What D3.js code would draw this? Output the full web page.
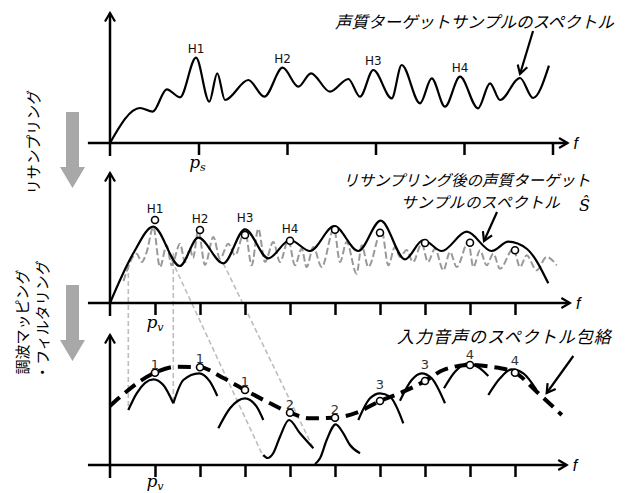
<!DOCTYPE html>
<html>
<head>
<meta charset="utf-8">
<script src="https://cdn.jsdelivr.net/npm/d3@7"></script>
<style>
  body { margin: 0; background: #fff; }
  svg { display: block; }
</style>
</head>
<body>
<svg id="chart" width="640" height="493"></svg>
<script>
// =========================
// DATA
// =========================

// panel 1: target sample spectrum  [frequency in p_s units, level]
const targetSpec = [
  [0, 0], [0.339, 35], [0.482, 31.3], [0.641, 53.7], [0.791, 45.7], [0.972, 85.3],
  [1.122, 41.3], [1.212, 69.7], [1.299, 43], [1.563, 63], [1.744, 46.3], [1.951, 75.3],
  [2.128, 56.3], [2.271, 69.7], [2.486, 51.3], [2.693, 64], [2.825, 46.3], [2.975, 73],
  [3.183, 44.7], [3.296, 78], [3.503, 39.7], [3.635, 64.7], [3.785, 36.3], [3.955, 66.3],
  [4.158, 34.7], [4.294, 59.7], [4.407, 43], [4.633, 65], [4.78, 45], [4.96, 77.3]
];
const targetTicks = [1, 2, 3, 4, 5];
const targetHarmNames = ["H1", "H2", "H3", "H4"];
const targetHarmIndex = [5, 11, 17, 23];   // points of targetSpec that carry H1..H4

// panel 2: resampled spectrum (solid) and resampled target (grey dashed) [frequency in p_v units, level]
const resampledSpec = [
  [0, 0], [0.518, 49.7], [0.962, 76.3], [1.55, 37], [1.962, 65.3], [2.518, 39.7],
  [3.0, 73.7], [3.518, 44.7], [4.0, 63], [4.444, 52], [4.984, 77], [5.518, 52],
  [6.016, 82.3], [6.556, 43.7], [6.962, 63], [7.371, 52], [7.927, 71.3], [8.482, 52],
  [8.851, 61.3], [9.267, 54], [9.74, 19.7]
];
const resampledTarget = [
  [0.3, 22], [0.593, 49.3], [0.704, 41], [0.816, 51], [0.962, 76], [1.111, 36],
  [1.26, 57.7], [1.37, 37.7], [1.556, 59.3], [1.667, 41], [1.778, 54.3], [1.844, 45],
  [1.962, 72.7], [2.111, 38], [2.296, 66], [2.444, 44.3], [2.629, 59.3], [2.778, 47.7],
  [3.0, 72.7], [3.148, 37.7], [3.296, 74.3], [3.444, 41], [3.629, 61], [3.778, 41],
  [3.962, 62.7], [4.111, 37.7], [4.259, 54.3], [4.37, 36], [4.518, 56], [4.704, 36],
  [4.978, 74.3], [5.111, 41], [5.259, 61], [5.481, 29.3], [5.593, 57.7], [5.74, 36],
  [6.037, 72.7], [6.185, 37.7], [6.333, 56], [6.444, 46], [6.593, 53], [6.733, 41],
  [6.926, 59.3], [7.067, 41], [7.222, 54.3], [7.407, 32.7], [7.556, 51], [7.704, 36],
  [7.963, 61], [8.074, 36], [8.222, 52.7], [8.37, 37.7], [8.518, 49.3], [8.667, 34.3],
  [8.963, 54.3], [9.111, 36], [9.259, 47.7], [9.481, 32.7], [9.704, 46], [9.926, 37.7]
];
const harmonics = [1, 2, 3, 4, 5, 6, 7, 8, 9];
const harmonicLevels = [83, 73, 68, 62.3, 73.3, 70.3, 60, 60.3, 52.7];
const resampledHarmNames = ["H1", "H2", "H3", "H4"];

// panel 3: input spectral envelope and filtered harmonics
const envelope = [
  [0, 59], [1, 92.3], [1.482, 98.3], [2, 97.7], [2.518, 87], [3, 75], [3.556, 61.7],
  [4, 52.3], [4.444, 46.7], [5, 47.3], [5.482, 52.3], [6, 64], [6.518, 73.3], [7, 84],
  [7.407, 95], [8, 100], [8.444, 98.3], [9, 92.3], [9.482, 73.3], [10.04, 50]
];
const envelopeLevels = [92.3, 97.7, 75, 52.3, 47.3, 64, 84, 100, 92.3];
const bandNumbers = ["1", "1", "1", "2", "2", "3", "3", "4", "4"];
const filteredPeaks = [
  [[0.407, 55], [0.593, 71.7], [0.962, 85.7], [1.185, 80], [1.407, 61.7]],
  [[1.407, 61.7], [1.63, 85], [1.978, 91.7], [2.222, 83.3], [2.385, 69]],
  [[2.407, 36.7], [2.667, 56.7], [3.0, 66.7], [3.259, 58.3], [3.407, 45]],
  [[3.407, 10], [3.5, 7], [3.63, 12], [3.778, 28.3], [3.978, 45], [4.222, 31.7], [4.519, 16.7]],
  [[4.556, 1], [4.667, 6.7], [4.815, 25], [5.015, 40.7], [5.185, 31.7], [5.333, 20], [5.556, 11.7]],
  [[5.518, 45], [5.778, 66.7], [6.0, 71.7], [6.222, 68.3], [6.518, 41.7]],
  [[6.444, 64.3], [6.704, 85], [6.926, 91.7], [7.148, 86.7], [7.444, 61.7]],
  [[7.422, 76.7], [7.667, 93.3], [7.963, 101.7], [8.222, 96.7], [8.407, 89]],
  [[8.407, 70], [8.667, 86.7], [8.926, 95.7], [9.185, 91.7], [9.481, 75]]
];
// grey guides from panel 2 down to panel 3: [[f, level in panel 2], [f, level in panel 3]]
const mappingGuides = [
  [[0.407, 38], [0.407, 55]],
  [[1.407, 50], [1.407, 63.3]],
  [[1.37, 43], [3.407, 8.3]],
  [[2.518, 39.7], [4.519, 16.7]]
];

// =========================
// SETUP
// =========================
const svg = d3.select("#chart");
const jp = "'Noto Sans CJK JP', sans-serif";

const x1 = d3.scaleLinear().domain([0, 5]).range([110, 552.5]);
const y1 = d3.scaleLinear().domain([0, 100]).range([143, 43]);
const x2 = d3.scaleLinear().domain([0, 9]).range([110, 515]);
const y2 = d3.scaleLinear().domain([0, 100]).range([303, 203]);
const y3 = d3.scaleLinear().domain([0, 100]).range([465, 365]);

const defs = svg.append("defs");
defs.append("marker")
    .attr("id", "head")
    .attr("viewBox", "0 0 12 12")
    .attr("refX", 10).attr("refY", 6)
    .attr("markerWidth", 12).attr("markerHeight", 12)
    .attr("markerUnits", "userSpaceOnUse")
    .attr("orient", "auto")
  .append("path")
    .attr("d", "M1.5,1 L10,6 L1.5,11")
    .attr("fill", "none")
    .attr("stroke", "#000")
    .attr("stroke-width", 2.2);

// ---- axes ----
function drawAxes(x, y, ticks, fMin, fMax) {
    const g = svg.append("g");
    g.append("g")
        .attr("transform", `translate(0,${y(0)})`)
        .call(d3.axisBottom(x).tickValues(ticks).tickSize(12).tickFormat(""))
        .call(a => a.select(".domain").remove())
        .call(a => a.selectAll(".tick line").attr("stroke", "#000").attr("stroke-width", 2.5));
    g.append("line")
        .attr("x1", x(fMin)).attr("x2", x(fMax))
        .attr("y1", y(0)).attr("y2", y(0))
        .attr("stroke", "#000").attr("stroke-width", 2.5)
        .attr("marker-end", "url(#head)");
    g.append("line")
        .attr("x1", x(0)).attr("x2", x(0))
        .attr("y1", y(-13)).attr("y2", y(130))
        .attr("stroke", "#000").attr("stroke-width", 2.5)
        .attr("marker-end", "url(#head)");
    g.append("text")
        .attr("x", x(fMax) + 6).attr("y", y(0) + 6)
        .attr("font-family", "'Liberation Sans', sans-serif")
        .attr("font-style", "italic")
        .attr("font-size", 16)
        .text("f");
}

function pLabel(x, y, sub) {
    const t = svg.append("text")
        .attr("x", x).attr("y", y)
        .attr("text-anchor", "middle")
        .attr("font-family", "'DejaVu Serif', serif")
        .attr("font-style", "italic")
        .attr("font-size", 17);
    t.append("tspan").text("p");
    t.append("tspan").attr("font-size", 11).attr("dy", 3).text(sub);
}

function annotArrow(x, y, from, to) {
    svg.append("line")
        .attr("x1", x(from[0])).attr("y1", y(from[1]))
        .attr("x2", x(to[0])).attr("y2", y(to[1]))
        .attr("stroke", "#000").attr("stroke-width", 2.2)
        .attr("marker-end", "url(#head)");
}

const curve = (x, y) => d3.line().x(d => x(d[0])).y(d => y(d[1])).curve(d3.curveMonotoneX);

// =========================
// GUIDES (behind everything)
// =========================
svg.append("g").selectAll("line")
    .data(mappingGuides)
    .enter()
    .append("line")
    .attr("x1", d => x2(d[0][0])).attr("y1", d => y2(d[0][1]))
    .attr("x2", d => x2(d[1][0])).attr("y2", d => y3(d[1][1]))
    .attr("stroke", "#bdbdbd")
    .attr("stroke-width", 1.6)
    .attr("stroke-dasharray", "5,3");

// =========================
// PANEL 1
// =========================
drawAxes(x1, y1, targetTicks, -0.25, 5.17);

svg.append("path")
    .datum(targetSpec)
    .attr("d", curve(x1, y1))
    .attr("fill", "none")
    .attr("stroke", "#000")
    .attr("stroke-width", 2.2);

svg.append("g").selectAll("text")
    .data(targetHarmIndex)
    .enter()
    .append("text")
    .attr("x", d => x1(targetSpec[d][0]))
    .attr("y", d => y1(targetSpec[d][1]) - 5)
    .attr("text-anchor", "middle")
    .attr("font-family", "'DejaVu Sans', sans-serif")
    .attr("font-size", 12)
    .attr("fill", "#111")
    .text((d, i) => targetHarmNames[i]);

pLabel(x1(1) - 1, y1(0) + 25, "s");

svg.append("text")
    .attr("x", 335).attr("y", 28)
    .attr("font-family", jp).attr("font-style", "italic").attr("font-size", 16.5)
    .text("声質ターゲットサンプルのスペクトル");
annotArrow(x1, y1, [4.78, 112], [4.633, 69]);

// =========================
// PANEL 2
// =========================
drawAxes(x2, y2, harmonics, -0.49, 10.22);

svg.append("path")
    .datum(resampledTarget)
    .attr("d", curve(x2, y2))
    .attr("fill", "none")
    .attr("stroke", "#999")
    .attr("stroke-width", 2)
    .attr("stroke-dasharray", "7,3");

svg.append("path")
    .datum(resampledSpec)
    .attr("d", curve(x2, y2))
    .attr("fill", "none")
    .attr("stroke", "#000")
    .attr("stroke-width", 2.2);

svg.append("g").selectAll("circle")
    .data(harmonics)
    .enter()
    .append("circle")
    .attr("cx", d => x2(d))
    .attr("cy", (d, i) => y2(harmonicLevels[i]))
    .attr("r", 3.5)
    .attr("fill", "#fff")
    .attr("stroke", "#000")
    .attr("stroke-width", 1.6);

svg.append("g").selectAll("text")
    .data(resampledHarmNames)
    .enter()
    .append("text")
    .attr("x", (d, i) => x2(harmonics[i]))
    .attr("y", (d, i) => {
        const k = harmonics[i];
        const peak = d3.max(resampledSpec.filter(p => Math.abs(p[0] - k) < 0.3), p => p[1]);
        return y2(Math.max(peak, harmonicLevels[i])) - 7;
    })
    .attr("text-anchor", "middle")
    .attr("font-family", "'DejaVu Sans', sans-serif")
    .attr("font-size", 12)
    .attr("fill", "#111")
    .text(d => d);

pLabel(x2(1), y2(0) + 25, "v");

svg.append("text")
    .attr("x", 343).attr("y", 186)
    .attr("font-family", jp).attr("font-style", "italic").attr("font-size", 15.5)
    .text("リサンプリング後の声質ターゲット");
svg.append("text")
    .attr("x", 401).attr("y", 208)
    .attr("font-family", jp).attr("font-style", "italic").attr("font-size", 15.5)
    .attr("letter-spacing", 0.6)
    .text("サンプルのスペクトル");
svg.append("text")
    .attr("x", 579).attr("y", 211)
    .attr("font-family", "'DejaVu Serif', serif").attr("font-style", "italic").attr("font-size", 16)
    .text("Ŝ");
annotArrow(x2, y2, [8.6, 91], [8.311, 62]);

// =========================
// PANEL 3
// =========================
drawAxes(x2, y3, harmonics, -0.49, 10.15);

svg.append("g").selectAll("path")
    .data(filteredPeaks)
    .enter()
    .append("path")
    .attr("d", curve(x2, y3))
    .attr("fill", "none")
    .attr("stroke", "#000")
    .attr("stroke-width", 2.2);

svg.append("path")
    .datum(envelope)
    .attr("d", curve(x2, y3))
    .attr("fill", "none")
    .attr("stroke", "#000")
    .attr("stroke-width", 4)
    .attr("stroke-dasharray", "13,7");

svg.append("g").selectAll("circle")
    .data(harmonics)
    .enter()
    .append("circle")
    .attr("cx", d => x2(d))
    .attr("cy", (d, i) => y3(envelopeLevels[i]))
    .attr("r", 3.5)
    .attr("fill", "#fff")
    .attr("stroke", "#000")
    .attr("stroke-width", 1.6);

svg.append("g").selectAll("text")
    .data(bandNumbers)
    .enter()
    .append("text")
    .attr("x", (d, i) => x2(harmonics[i]))
    .attr("y", (d, i) => {
        const peak = d3.max(filteredPeaks[i], p => p[1]);
        return y3(Math.max(peak, envelopeLevels[i])) - 4;
    })
    .attr("text-anchor", "middle")
    .attr("font-family", "'DejaVu Sans', sans-serif")
    .attr("font-size", 13)
    .attr("fill", "#333")
    .text(d => d);

pLabel(x2(1), y3(0) + 22, "v");

svg.append("text")
    .attr("x", 397).attr("y", 343)
    .attr("font-family", jp).attr("font-style", "italic").attr("font-size", 17)
    .attr("letter-spacing", 1)
    .text("入力音声のスペクトル包絡");
annotArrow(x2, y3, [10.296, 109], [9.704, 72]);

// =========================
// LEFT: process arrows + captions
// =========================
const processArrow = [[66, 0], [79, 0], [79, 55], [85, 55], [72.5, 76], [60, 55], [66, 55]];
[112, 285].forEach(top => {
    svg.append("path")
        .datum(processArrow)
        .attr("d", d3.line().x(d => d[0]).y(d => d[1] + top))
        .attr("fill", "#a8a8a8");
});

const captions = [
    { text: "リサンプリング", x: 32, y: 142 },
    { text: "調波マッピング", x: 21, y: 322 },
    { text: "・フィルタリング", x: 41, y: 320 }
];
svg.append("g").selectAll("text")
    .data(captions)
    .enter()
    .append("text")
    .attr("transform", d => `translate(${d.x},${d.y}) rotate(-90)`)
    .attr("text-anchor", "middle")
    .attr("dominant-baseline", "central")
    .attr("font-family", jp)
    .attr("font-size", 15)
    .text(d => d.text);
</script>
</body>
</html>
